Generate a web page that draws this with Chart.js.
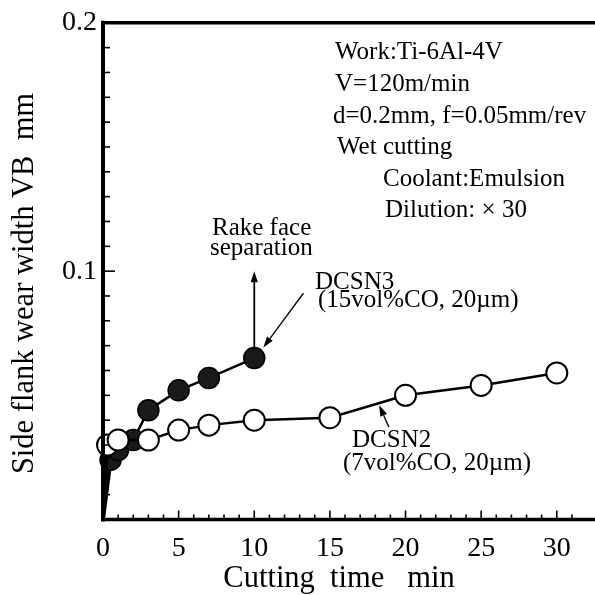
<!DOCTYPE html>
<html><head><meta charset="utf-8">
<script src="https://cdn.jsdelivr.net/npm/chart.js@4/dist/chart.umd.min.js"></script>
<style>html,body{margin:0;padding:0;background:#fff}#wrap{width:595px;height:595px}</style>
</head><body><div id="wrap"><canvas id="c" width="595" height="595"></canvas></div>
<script>
// ---- data ----
const dcsn3Time = [0, 0.5, 1, 2, 3, 5, 7, 10];
const dcsn3Wear = [0, 0.024, 0.028, 0.032, 0.044, 0.052, 0.057, 0.065];
const dcsn2Time = [0, 0.3, 1, 3, 5, 7, 10, 15, 20, 25, 30];
const dcsn2Wear = [0, 0.030, 0.032, 0.032, 0.036, 0.038, 0.040, 0.041, 0.050, 0.054, 0.059];
const xTickLabels = [0, 5, 10, 15, 20, 25, 30];
const yTickLabels = [0.1, 0.2];
const xTitle = "Cutting  time   min";
const yTitle = "Side flank wear width VB  mm";
const infoLines = ["Work:Ti-6Al-4V", "V=120m/min", "d=0.2mm, f=0.05mm/rev", "Wet cutting", "Coolant:Emulsion", "Dilution: \u00d7 30"];
const rakeLabel = ["Rake face", "separation"];
const dcsn3Label = ["DCSN3", "(15vol%CO, 20\u00b5m)"];
const dcsn2Label = ["DCSN2", "(7vol%CO, 20\u00b5m)"];

const FAM = '"Liberation Serif","DejaVu Serif",serif';

function arrow(ctx, x1, y1, x2, y2, w) {
  ctx.lineWidth = w;
  const ang = Math.atan2(y2 - y1, x2 - x1);
  const hl = 11, hw = 3.6;
  const bx = x2 - hl * Math.cos(ang), by = y2 - hl * Math.sin(ang);
  ctx.beginPath(); ctx.moveTo(x1, y1); ctx.lineTo(bx, by); ctx.stroke();
  ctx.beginPath();
  ctx.moveTo(x2, y2);
  ctx.lineTo(bx + hw * Math.sin(ang), by - hw * Math.cos(ang));
  ctx.lineTo(bx - hw * Math.sin(ang), by + hw * Math.cos(ang));
  ctx.closePath(); ctx.fill();
}

const deco = {
  id: 'deco',
  afterDatasetsDraw(chart) {
    const {ctx, chartArea: a, scales: {x, y}} = chart;
    ctx.save();
    ctx.strokeStyle = '#000'; ctx.fillStyle = '#000';
    // inward ticks
    ctx.lineWidth = 1.6;
    for (let t = 1; t <= 31; t++) {
      const px = x.getPixelForValue(t), len = t % 5 === 0 ? 9 : 5;
      ctx.beginPath(); ctx.moveTo(px, a.bottom); ctx.lineTo(px, a.bottom - len); ctx.stroke();
    }
    for (let i = 1; i < 20; i++) {
      const py = y.getPixelForValue(i / 100), len = i % 10 === 0 ? 12 : 7;
      ctx.beginPath(); ctx.moveTo(a.left, py); ctx.lineTo(a.left + len, py); ctx.stroke();
    }
    // spines
    ctx.lineCap = 'square';
    ctx.lineWidth = 4;
    ctx.beginPath(); ctx.moveTo(a.left, a.bottom); ctx.lineTo(a.left, a.top); ctx.stroke();
    ctx.lineWidth = 3.5;
    ctx.beginPath(); ctx.moveTo(a.left, a.top); ctx.lineTo(chart.width, a.top); ctx.stroke();
    ctx.beginPath(); ctx.moveTo(a.left, a.bottom); ctx.lineTo(chart.width, a.bottom); ctx.stroke();
    ctx.lineCap = 'butt';

    // arrows (in data units)
    arrow(ctx, x.getPixelForValue(10), y.getPixelForValue(0.0685), x.getPixelForValue(10), y.getPixelForValue(0.1), 1.8);
    arrow(ctx, x.getPixelForValue(13.25), y.getPixelForValue(0.0911), x.getPixelForValue(10.6), y.getPixelForValue(0.0693), 1.3);
    arrow(ctx, x.getPixelForValue(18.9), y.getPixelForValue(0.0372), x.getPixelForValue(18.26), y.getPixelForValue(0.046), 1.3);

    // texts
    ctx.textBaseline = 'alphabetic'; ctx.textAlign = 'left';
    ctx.font = '25px ' + FAM;
    const infoX = [335, 335, 333, 337, 383, 385];
    const infoY = [59, 91, 123, 154, 186, 217];
    infoLines.forEach((s, i) => ctx.fillText(s, infoX[i], infoY[i]));
    ctx.fillText(rakeLabel[0], 212, 235);
    ctx.fillText(rakeLabel[1], 210, 255);
    ctx.fillText(dcsn3Label[0], 315, 289);
    ctx.fillText(dcsn3Label[1], 318, 307);
    ctx.fillText(dcsn2Label[0], 352, 447);
    ctx.fillText(dcsn2Label[1], 343, 470);

    // axis titles
    ctx.font = '30.5px ' + FAM;
    ctx.textAlign = 'center';
    ctx.fillText(xTitle, 339, 587);
    ctx.save();
    ctx.translate(33, 283.5); ctx.rotate(-Math.PI / 2);
    ctx.fillText(yTitle, 0, 0);
    ctx.restore();
    ctx.restore();
  }
};

const pts = (xs, ys) => xs.map((t, i) => ({x: t, y: ys[i]}));

new Chart(document.getElementById('c'), {
  type: 'scatter',
  data: {
    datasets: [
      {
        label: 'DCSN3', data: pts(dcsn3Time, dcsn3Wear), showLine: true,
        borderColor: '#000', borderWidth: 2.5, backgroundColor: '#111',
        pointBackgroundColor: '#1a1a1a', pointBorderColor: '#000', pointBorderWidth: 1.5,
        pointRadius: c => c.dataIndex === 0 ? 0 : 10.5,
        segment: {borderWidth: c => c.p0DataIndex === 0 ? 4 : 2.5},
        clip: false, order: 1
      },
      {
        label: 'DCSN2', data: pts(dcsn2Time, dcsn2Wear), showLine: true,
        borderColor: '#000', borderWidth: 2.5, backgroundColor: '#fff',
        pointBackgroundColor: '#fff', pointBorderColor: '#000', pointBorderWidth: 2,
        pointRadius: c => c.dataIndex === 0 ? 0 : 10.5,
        segment: {borderWidth: c => c.p0DataIndex === 0 ? 3.5 : 2.5},
        clip: false, order: 0
      }
    ]
  },
  options: {
    responsive: false, animation: false, devicePixelRatio: 1,
    layout: {padding: {top: 22, left: 0, right: 0, bottom: 0}},
    plugins: {legend: {display: false}, tooltip: {enabled: false}},
    scales: {
      x: {
        type: 'linear', min: 0, max: 31.7,
        grid: {display: false, drawTicks: false}, border: {display: false},
        ticks: {
          stepSize: 1, autoSkip: false, maxRotation: 0, padding: 12, color: '#000',
          font: {family: FAM, size: 28},
          callback: v => xTickLabels.includes(v) ? String(v) : ''
        },
        afterFit(s) { s.height = 75.5; }
      },
      y: {
        type: 'linear', min: 0, max: 0.2,
        grid: {display: false, drawTicks: false}, border: {display: false},
        ticks: {
          stepSize: 0.01, autoSkip: false, padding: 6, color: '#000',
          font: {family: FAM, size: 28},
          callback: v => { const m = yTickLabels.find(t => Math.abs(t - v) < 1e-9); return m !== undefined ? m.toFixed(1) : ''; }
        },
        afterFit(s) { s.width = 103; }
      }
    }
  },
  plugins: [deco]
});
</script></body></html>
